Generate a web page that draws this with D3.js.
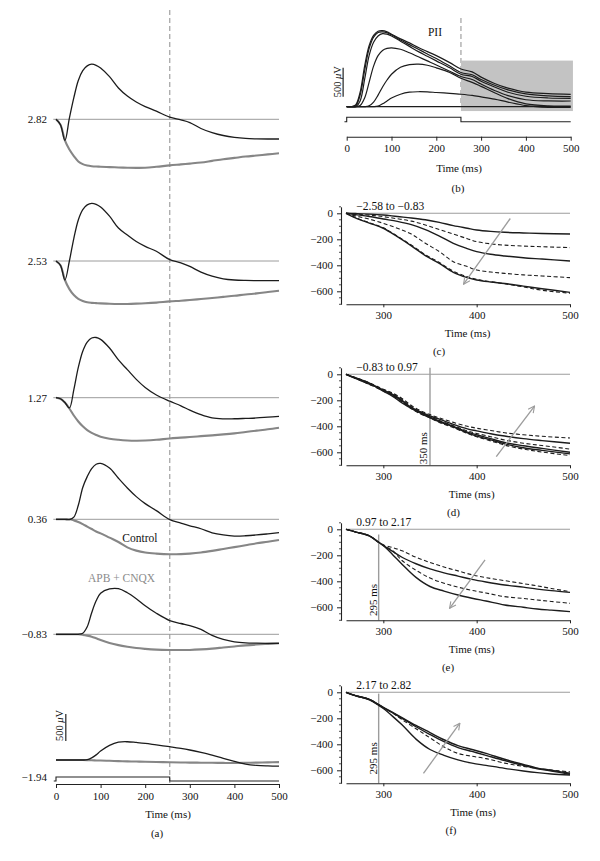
<!DOCTYPE html>
<html><head><meta charset="utf-8">
<script src="https://cdn.jsdelivr.net/npm/d3@7"></script>
<style>body{margin:0;background:#fff} svg text{font-family:"Liberation Serif","Times New Roman",serif !important;}</style>
</head><body><svg id="c" width="600" height="861"></svg>
<script>
// ---------------- DATA ----------------
// Panel (a): Control (black) vs APB + CNQX (gray) traces, µV, per stimulus level
const timeA = [0,10,20,30,40,50,60,70,80,90,100,120,140,160,180,200,225,255,280,300,325,350,375,400,425,450,475,500];
const rowLabelsA = ["2.82","2.53","1.27","0.36","−0.83","−1.94"];
const controlA282 = [0,-100,-390,20,400,720,900,990,1020,1000,950,790,580,430,320,235,150,40,-10,-60,-170,-245,-300,-335,-355,-362,-365,-365];
const apbA282     = [0,-100,-390,-560,-680,-780,-830,-855,-868,-875,-878,-885,-892,-897,-900,-898,-880,-853,-835,-820,-800,-770,-740,-715,-690,-670,-650,-630];
const controlA253 = [0,-80,-352,0,420,760,950,1040,1068,1050,1000,830,610,480,360,270,180,25,-35,-100,-205,-280,-330,-352,-360,-363,-365,-365];
const apbA253     = [0,-80,-352,-520,-630,-700,-740,-765,-775,-780,-785,-792,-796,-795,-790,-783,-770,-748,-735,-722,-705,-685,-665,-645,-620,-600,-575,-550];
const controlA127 = [0,-20,-90,-190,150,560,860,1030,1105,1115,1080,920,700,520,340,190,50,-65,-150,-230,-315,-375,-392,-390,-383,-375,-360,-345];
const apbA127     = [0,-20,-90,-200,-330,-440,-530,-600,-650,-690,-722,-760,-780,-792,-796,-793,-780,-755,-740,-728,-712,-697,-680,-660,-635,-610,-585,-556];
const controlA036 = [0,0,0,-5,40,260,590,790,940,1020,1035,950,760,580,420,290,160,-5,-70,-120,-175,-250,-290,-310,-305,-290,-270,-248];
const apbA036     = [0,0,0,0,-20,-50,-90,-135,-180,-225,-260,-340,-420,-520,-580,-615,-635,-648,-645,-635,-615,-585,-550,-515,-480,-445,-415,-383];
const controlAm083 = [0,0,0,0,0,0,20,140,400,620,760,840,845,770,660,530,390,255,200,160,90,-20,-95,-140,-160,-165,-167,-167];
const apbAm083     = [0,0,0,0,0,0,-10,-25,-45,-75,-106,-160,-200,-230,-255,-270,-283,-290,-292,-290,-280,-265,-245,-225,-205,-190,-178,-167];
const controlAm194 = [0,0,0,0,0,0,0,5,40,95,165,270,330,338,325,309,280,246,215,185,140,90,30,-25,-75,-100,-110,-115];
const apbAm194     = [0,0,0,0,0,0,0,-2,-5,-8,-10,-15,-20,-25,-29,-33,-37,-42,-45,-48,-50,-52,-54,-55,-52,-48,-44,-40];
const ticksA = [0,100,200,300,400,500];
const stimTime = [-5,0,0,255,255,500];
const stimLevel = [0,0,1,1,0,0];
const stimOffMs = 255;

// Panel (b): responses to increasing stimulus
const timeB = [0,10,20,30,40,50,60,70,80,90,100,120,140,160,180,200,230,255,280,300,330,360,400,450,500];
const respB1 = [0,0,30,250,700,1050,1230,1300,1310,1290,1250,1170,1100,1020,950,880,760,650,600,510,400,320,250,225,214];
const respB2 = [0,0,15,200,620,1000,1200,1280,1290,1275,1240,1150,1070,990,910,830,700,590,550,470,370,290,220,185,172];
const respB3 = [0,0,0,100,470,880,1110,1220,1260,1250,1220,1130,1040,950,870,790,670,560,520,440,340,250,180,150,144];
const respB4 = [0,0,0,20,150,420,700,880,970,1005,1015,990,930,860,790,720,610,520,470,390,280,190,120,100,98];
const respB5 = [0,0,0,0,0,15,80,200,340,460,560,680,725,735,715,670,590,490,420,350,240,140,50,15,12];
const respB6 = [0,0,0,0,0,0,0,10,50,100,150,215,250,258,255,245,230,215,195,170,130,80,20,-10,-11];
const respB7 = [0,0,0,0,0,0,0,0,0,0,0,0,0,0,0,0,0,0,0,0,0,0,0,0,0];
const shadeB = {t0:255, t1:505, v0:-75, v1:795};

// Panels (c)-(f): off responses, µV
const timeC = [260,270,285,300,315,330,345,360,375,390,400,415,430,450,470,500];
const cSolid1 = [0,-2,-6,-13,-25,-36,-50,-70,-95,-115,-128,-139,-146,-151,-155,-159];
const cDash1  = [0,-5,-14,-26,-42,-60,-90,-125,-160,-195,-218,-235,-245,-252,-257,-264];
const cSolid2 = [0,-10,-25,-44,-62,-87,-125,-175,-231,-272,-295,-315,-328,-342,-352,-367];
const cDash2  = [0,-20,-45,-77,-115,-160,-230,-295,-372,-410,-436,-452,-462,-474,-482,-495];
const cSolid3 = [0,-35,-75,-115,-180,-250,-325,-385,-454,-495,-513,-528,-540,-560,-580,-608];
const cDash3  = [0,-33,-72,-112,-176,-244,-318,-378,-446,-488,-508,-526,-542,-566,-592,-615];

const timeD = [260,270,285,300,310,320,330,340,350,360,375,390,400,415,430,450,470,500];
const dDash1  = [0,-25,-65,-115,-145,-185,-240,-280,-310,-335,-370,-400,-415,-432,-450,-465,-477,-490];
const dSolid2 = [0,-28,-70,-125,-160,-205,-255,-290,-320,-345,-385,-420,-435,-457,-475,-495,-510,-530];
const dDash3  = [0,-30,-72,-118,-150,-190,-250,-290,-325,-355,-395,-435,-455,-480,-505,-530,-548,-575];
const dSolid4 = [0,-26,-68,-130,-170,-220,-262,-295,-330,-360,-400,-445,-465,-495,-525,-550,-570,-600];
const dSolid5 = [0,-32,-75,-120,-155,-200,-258,-300,-335,-365,-405,-450,-475,-505,-535,-565,-585,-612];
const dDash6  = [0,-30,-78,-128,-165,-212,-265,-305,-335,-370,-410,-455,-480,-512,-545,-575,-598,-625];

const timeE = [260,270,285,295,300,310,320,335,350,365,380,395,410,430,450,465,480,500];
const eDash1  = [0,-20,-50,-100,-120,-140,-165,-215,-255,-290,-320,-350,-372,-395,-418,-435,-455,-480];
const eSolid2 = [0,-20,-50,-100,-125,-170,-215,-265,-305,-335,-360,-385,-405,-428,-445,-460,-472,-485];
const eDash3  = [0,-20,-50,-100,-120,-165,-240,-315,-375,-415,-445,-470,-490,-518,-532,-544,-555,-569];
const eSolid4 = [0,-20,-50,-100,-125,-195,-268,-370,-440,-475,-505,-530,-552,-582,-600,-613,-622,-633];

const timeF = [260,270,285,295,300,310,320,335,350,365,380,395,410,430,450,465,480,500];
const fSolid1 = [0,-25,-55,-95,-115,-155,-195,-255,-310,-365,-410,-440,-470,-515,-555,-583,-600,-623];
const fSolid4 = [0,-25,-55,-95,-118,-158,-200,-265,-325,-380,-425,-455,-485,-525,-562,-588,-605,-630];
const fDash2  = [0,-25,-55,-95,-118,-160,-210,-280,-350,-420,-470,-492,-510,-545,-570,-585,-598,-612];
const fSolid3 = [0,-25,-58,-100,-125,-185,-250,-360,-440,-485,-520,-545,-562,-585,-605,-618,-628,-636];

const rangeLabels = ["−2.58 to −0.83","−0.83 to 0.97","0.97 to 2.17","2.17 to 2.82"];
const markerMs = [null, 350, 295, 295];
const ticksRX = [300,400,500];
const ticksRY = [0,-200,-400,-600];

// ---------------- DRAW ----------------
const svg = d3.select("#c");
const FONT = '"Liberation Serif","Times New Roman",serif';
const BLACK = "#1c1c1c", GRAY = "#868686", REF = "#9c9c9c";

const defs = svg.append("defs");
defs.append("marker").attr("id","arr").attr("viewBox","0 0 10 10")
  .attr("refX",9).attr("refY",5).attr("markerWidth",8).attr("markerHeight",8)
  .attr("markerUnits","userSpaceOnUse").attr("orient","auto")
  .append("path").attr("d","M1,1 L9,5 L1,9").attr("fill","none")
  .attr("stroke",REF).attr("stroke-width",1.4);

function txt(g, x, y, s, opt={}) {
  const t = g.append("text").attr("x",x).attr("y",y)
    .attr("font-family",FONT).attr("font-size",opt.size||11)
    .attr("fill",opt.fill||"#111")
    .attr("text-anchor",opt.anchor||"middle")
    .attr("dominant-baseline",opt.base||"central");
  if (opt.rot) t.attr("transform",`rotate(-90,${x},${y})`);
  if (opt.html) t.html(s); else t.text(s);
  return t;
}
function styleAxis(g, size) {
  g.attr("font-family",FONT).attr("font-size",size||11);
  g.selectAll("path.domain").attr("stroke","#222").attr("stroke-width",1.1);
  g.selectAll(".tick line").attr("stroke","#222");
  g.selectAll(".tick text").attr("fill","#111");
}
const line = (x,y) => d3.line().x(d=>x(d[0])).y(d=>y(d[1])).curve(d3.curveCatmullRom.alpha(0.5));
const zip = (t,v) => t.map((d,i)=>[d,v[i]]);

// ===== Panel (a) =====
const xA = d3.scaleLinear().domain([0,500]).range([56,279]);
const baseA = [119.3, 261, 397.7, 519.3, 634.3, 760];
const yAs = baseA.map(b => d3.scaleLinear().domain([0,1000]).range([b, b-54]));
const controlA = [controlA282, controlA253, controlA127, controlA036, controlAm083, controlAm194];
const apbA = [apbA282, apbA253, apbA127, apbA036, apbAm083, apbAm194];
const gA = svg.append("g");
const yStimA = d3.scaleLinear().domain([0,1]).range([781,777]);

gA.append("line").attr("x1",xA(stimOffMs)).attr("x2",xA(stimOffMs))
  .attr("y1",10).attr("y2",784).attr("stroke","#a8a8a8").attr("stroke-width",1.3)
  .attr("stroke-dasharray","5,3");

controlA.forEach((ctl,i) => {
  const y = yAs[i];
  if (i < 5) {
    gA.append("line").attr("x1",xA(-6)).attr("x2",xA(500)).attr("y1",y(0)).attr("y2",y(0))
      .attr("stroke",REF).attr("stroke-width",1);
  }
  gA.append("path").attr("d", line(xA,y)(zip(timeA, apbA[i])))
    .attr("fill","none").attr("stroke",GRAY).attr("stroke-width",2.1);
  gA.append("path").attr("d", line(xA,y)(zip(timeA, ctl)))
    .attr("fill","none").attr("stroke",BLACK).attr("stroke-width",1.3);
  const ly = i < 5 ? y(0) : yStimA(1);
  txt(gA, 47, ly, rowLabelsA[i], {anchor:"end"});
});
txt(gA, xA(188), yAs[3](-346), "Control", {size:11.5});
txt(gA, xA(147), yAs[4](1043), "APB + CNQX", {size:11.5, fill:"#8c8c8c"});

// scale bar (a)
gA.append("line").attr("x1",xA(22)).attr("x2",xA(22)).attr("y1",yAs[5](352)).attr("y2",yAs[5](852))
  .attr("stroke","#222").attr("stroke-width",1.2);
txt(gA, 63, yAs[5](640), '500 <tspan font-style="italic">μ</tspan>V', {rot:true, html:true, base:"auto", size:10.5});

// stimulus (a)
gA.append("path").attr("d", d3.line().x(d=>xA(d[0])).y(d=>yStimA(d[1]))(zip(stimTime, stimLevel)))
  .attr("fill","none").attr("stroke","#222").attr("stroke-width",1.1);

const axA = gA.append("g").attr("transform","translate(0,784)")
  .call(d3.axisBottom(xA).tickValues(ticksA).tickSize(4).tickSizeOuter(0).tickPadding(4));
styleAxis(axA);
txt(gA, 168, 814, "Time (ms)");
txt(gA, 157, 833, "(a)");

// ===== Panel (b) =====
const xB = d3.scaleLinear().domain([0,500]).range([346.7,570.7]);
const yB = d3.scaleLinear().domain([0,1000]).range([106.7, 48.7]);
const gB = svg.append("g");
gB.append("line").attr("x1",xB(stimOffMs)).attr("x2",xB(stimOffMs)).attr("y1",18).attr("y2",yB(0))
  .attr("stroke","#a8a8a8").attr("stroke-width",1.3).attr("stroke-dasharray","5,3");
gB.append("rect").attr("x",xB(shadeB.t0)).attr("y",yB(shadeB.v1))
  .attr("width",xB(shadeB.t1)-xB(shadeB.t0)).attr("height",yB(shadeB.v0)-yB(shadeB.v1))
  .attr("fill","#c3c3c3");
[respB7, respB6, respB5, respB4, respB3, respB2, respB1].forEach(r => {
  gB.append("path").attr("d", line(xB,yB)(zip(timeB, r)))
    .attr("fill","none").attr("stroke",BLACK).attr("stroke-width",1.2);
});
txt(gB, xB(197), yB(1293), "PII", {size:11.5});
gB.append("line").attr("x1",xB(-8)).attr("x2",xB(-8)).attr("y1",yB(172)).attr("y2",yB(672))
  .attr("stroke","#222").attr("stroke-width",1.2);
txt(gB, 341, yB(431), '500 <tspan font-style="italic">μ</tspan>V', {rot:true, html:true, base:"auto", size:10.5});
const yStimB = d3.scaleLinear().domain([0,1]).range([121.7,117.3]);
gB.append("path").attr("d", d3.line().x(d=>xB(d[0])).y(d=>yStimB(d[1]))(zip(stimTime, stimLevel)))
  .attr("fill","none").attr("stroke","#222").attr("stroke-width",1.1);
const axB = gB.append("g").attr("transform","translate(0,136.7)")
  .call(d3.axisBottom(xB).tickValues(ticksA).tickSize(4).tickSizeOuter(0).tickPadding(4));
styleAxis(axB);
txt(gB, 459, 168, "Time (ms)");
txt(gB, 458, 188, "(b)");

// ===== Panels (c)-(f) =====
const xR = d3.scaleLinear().domain([260,500]).range([346,570]);
const panelsR = [
  {zero:213.3, t:timeC, solid:[cSolid1,cSolid2,cSolid3], dash:[cDash1,cDash2,cDash3],
   arrow:[[436,-40],[386,-545]], mlabelV:null, mtop:null, timeX:467.5, letter:"(c)", letterX:439},
  {zero:374.3, t:timeD, solid:[dSolid2,dSolid4,dSolid5], dash:[dDash1,dDash3,dDash6],
   arrow:[[421,-634],[462,-244]], mlabelV:-569, mtop:50, mlabel:"350 ms", moff:-3, timeX:471.7, letter:"(d)", letterX:453.5},
  {zero:529.3, t:timeE, solid:[eSolid2,eSolid4], dash:[eDash1,eDash3],
   arrow:[[409,-236],[371,-608]], mlabelV:-544, mtop:-40, mlabel:"295 ms", moff:-2, timeX:471.7, letter:"(e)", letterX:448},
  {zero:692.3, t:timeF, solid:[fSolid1,fSolid4,fSolid3], dash:[fDash2],
   arrow:[[343,-623],[382,-238]], mlabelV:-508, mtop:-10, mlabel:"295 ms", moff:-2, timeX:473, letter:"(f)", letterX:451}
];
panelsR.forEach((p,i) => {
  const g = svg.append("g");
  const y = d3.scaleLinear().domain([-700,50]).range([p.zero+91, p.zero-6.5]);
  const bottom = p.zero + 91;
  g.append("line").attr("x1",xR(260)).attr("x2",xR(500)).attr("y1",y(0)).attr("y2",y(0))
    .attr("stroke",REF).attr("stroke-width",1.1);
  if (markerMs[i] !== null) {
    g.append("line").attr("x1",xR(markerMs[i])).attr("x2",xR(markerMs[i]))
      .attr("y1",y(p.mtop)).attr("y2",bottom).attr("stroke",REF).attr("stroke-width",1.4);
    txt(g, xR(markerMs[i])+p.moff, y(p.mlabelV), p.mlabel, {rot:true, base:"auto", size:11});
  }
  p.dash.forEach(v => g.append("path").attr("d", line(xR,y)(zip(p.t, v)))
    .attr("fill","none").attr("stroke",BLACK).attr("stroke-width",1.1).attr("stroke-dasharray","4,2.5"));
  p.solid.forEach(v => g.append("path").attr("d", line(xR,y)(zip(p.t, v)))
    .attr("fill","none").attr("stroke",BLACK).attr("stroke-width",1.4));
  g.append("line").attr("x1",xR(p.arrow[0][0])).attr("y1",y(p.arrow[0][1]))
    .attr("x2",xR(p.arrow[1][0])).attr("y2",y(p.arrow[1][1]))
    .attr("stroke",REF).attr("stroke-width",1.3).attr("marker-end","url(#arr)");
  txt(g, xR(271), y(22), rangeLabels[i], {anchor:"start", base:"auto", size:11.5});
  const ay = g.append("g").attr("transform","translate(341,0)")
    .call(d3.axisLeft(y).tickValues(ticksRY).tickSize(4).tickSizeOuter(0).tickPadding(4));
  styleAxis(ay);
  const minor = d3.range(-700, 51, 50).filter(v => !ticksRY.includes(v));
  g.selectAll(null).data(minor).join("line")
    .attr("x1",339).attr("x2",341).attr("y1",d=>y(d)).attr("y2",d=>y(d))
    .attr("stroke","#222").attr("stroke-width",0.8);
  const ax = g.append("g").attr("transform",`translate(0,${bottom})`)
    .call(d3.axisBottom(xR).tickValues(ticksRX).tickSize(3).tickSizeOuter(0).tickPadding(4));
  styleAxis(ax);
  txt(g, p.timeX, bottom+28.5, "Time (ms)");
  txt(g, p.letterX, bottom+47, p.letter);
});
</script></body></html>
